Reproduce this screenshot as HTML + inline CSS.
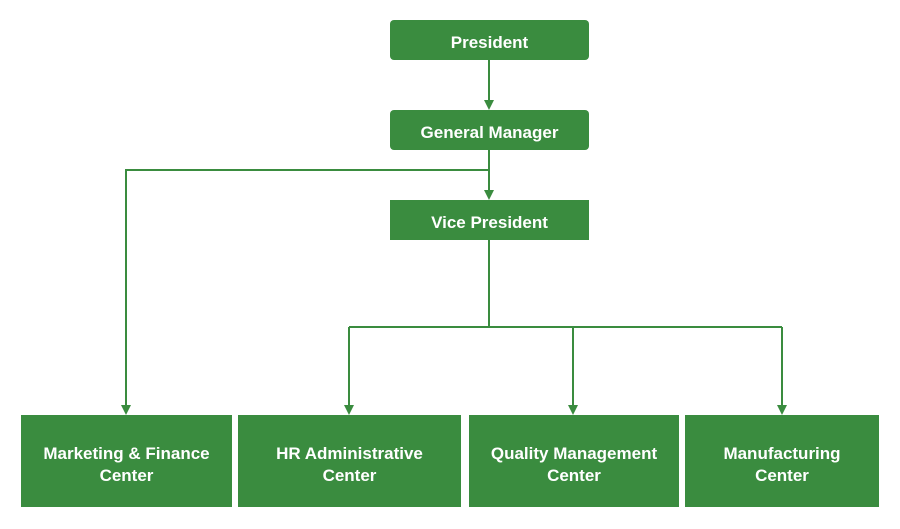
<!DOCTYPE html>
<html><head><style>
body{margin:0;width:900px;height:529px;background:#fff;position:relative;overflow:hidden;font-family:"Liberation Sans",sans-serif}
.b{position:absolute;background:#3a8c3f;color:#fff;font-weight:bold;font-size:17px;display:flex;align-items:center;justify-content:center;text-align:center;line-height:22px;box-sizing:border-box;padding-top:6px}
</style></head><body>
<svg width="900" height="529" style="position:absolute;left:0;top:0">
<g stroke="#3a8c3f" stroke-width="2" fill="none">
<path d="M489 60V103M489 150V193M489 170H126V408M489 240V327M349 327H782M349 327V408M573 327V408M782 327V408"/>
</g>
<g fill="#3a8c3f">
<path d="M484 100h10l-5 10z"/><path d="M484 190h10l-5 10z"/>
<path d="M121 405h10l-5 10z"/><path d="M344 405h10l-5 10z"/><path d="M568 405h10l-5 10z"/><path d="M777 405h10l-5 10z"/>
</g></svg>
<div class="b" style="left:390px;top:20px;width:199px;height:40px;border-radius:4px">President</div>
<div class="b" style="left:390px;top:110px;width:199px;height:40px;border-radius:4px">General Manager</div>
<div class="b" style="left:390px;top:200px;width:199px;height:40px">Vice President</div>
<div class="b" style="left:21px;top:415px;width:211px;height:92px;padding-top:8px">Marketing &amp; Finance<br>Center</div>
<div class="b" style="left:238px;top:415px;width:223px;height:92px;padding-top:8px">HR Administrative<br>Center</div>
<div class="b" style="left:469px;top:415px;width:210px;height:92px;padding-top:8px">Quality Management<br>Center</div>
<div class="b" style="left:685px;top:415px;width:194px;height:92px;padding-top:8px">Manufacturing<br>Center</div>
</body></html>
